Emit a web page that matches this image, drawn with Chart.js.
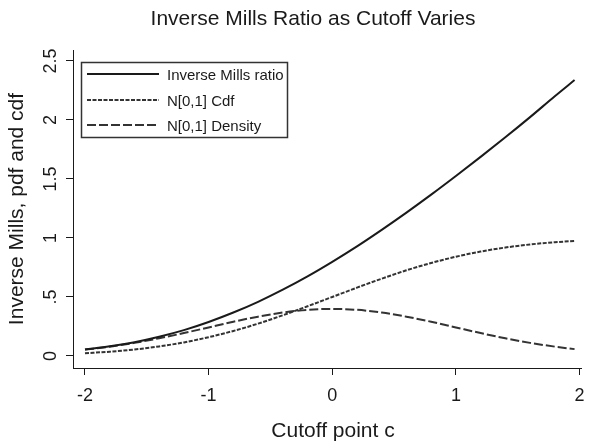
<!DOCTYPE html>
<html>
<head>
<meta charset="utf-8">
<script src="https://cdn.jsdelivr.net/npm/chart.js@4"></script>
<style>
  html, body { margin: 0; padding: 0; background: #fff; }
  #wrap { width: 589px; height: 441px; }
</style>
</head>
<body>
<div id="wrap"><canvas id="imrChart" width="589" height="441"></canvas></div>
<script>
// cutoff points c and the three curves
const cutoffs = [-2.0, -1.8, -1.6, -1.4, -1.2, -1.0, -0.8, -0.6, -0.4, -0.2, 0.0,
                 0.2, 0.4, 0.6, 0.8, 1.0, 1.2, 1.4, 1.6, 1.8, 1.96];
const millsRatio = [0.055, 0.082, 0.117, 0.163, 0.219, 0.288, 0.368, 0.459, 0.562, 0.675, 0.798,
                    0.929, 1.069, 1.215, 1.367, 1.525, 1.687, 1.853, 2.024, 2.201, 2.338];
const normCdf = [0.023, 0.036, 0.055, 0.081, 0.115, 0.159, 0.212, 0.274, 0.345, 0.421, 0.500,
                 0.579, 0.655, 0.726, 0.788, 0.841, 0.885, 0.919, 0.945, 0.964, 0.975];
const normPdf = [0.054, 0.079, 0.111, 0.150, 0.194, 0.242, 0.290, 0.333, 0.368, 0.391, 0.399,
                 0.391, 0.368, 0.333, 0.290, 0.242, 0.194, 0.150, 0.111, 0.079, 0.058];

const xTicks = [-2, -1, 0, 1, 2];
const xTickLabels = ['-2', '-1', '0', '1', '2'];
const yTicks = [0, 0.5, 1, 1.5, 2, 2.5];
const yTickLabels = ['0', '.5', '1', '1.5', '2', '2.5'];

const seriesNames = ['Inverse Mills ratio', 'N[0,1] Cdf', 'N[0,1] Density'];

const FONT = '"Liberation Sans", Arial, Helvetica, sans-serif';
const INK = '#1a1a1a';

function toPoints(ys) {
    return cutoffs.map((c, i) => ({ x: c, y: ys[i] }));
}

// titles, tick labels (y ones rotated, Stata style) and the boxed legend
const stataText = {
    id: 'stataText',
    afterDraw(chart) {
        const { ctx, scales } = chart;
        const x = scales.x, y = scales.y;
        ctx.save();
        ctx.fillStyle = INK;
        ctx.textBaseline = 'alphabetic';

        // main title
        ctx.font = '21px ' + FONT;
        ctx.textAlign = 'center';
        ctx.fillText('Inverse Mills Ratio as Cutoff Varies', 313, 25);

        // x title
        ctx.fillText('Cutoff point c', 333, 437);

        // x tick labels
        ctx.font = '18px ' + FONT;
        xTicks.forEach((v, i) => {
            ctx.fillText(xTickLabels[i], x.getPixelForValue(v), 401);
        });

        // y tick labels, rotated
        yTicks.forEach((v, i) => {
            ctx.save();
            ctx.translate(56, y.getPixelForValue(v));
            ctx.rotate(-Math.PI / 2);
            ctx.textAlign = 'center';
            ctx.fillText(yTickLabels[i], 0, 0);
            ctx.restore();
        });

        // y title
        ctx.save();
        ctx.translate(23, 209);
        ctx.rotate(-Math.PI / 2);
        ctx.font = '21px ' + FONT;
        ctx.textAlign = 'center';
        ctx.fillText('Inverse Mills, pdf and cdf', 0, 0);
        ctx.restore();

        // legend
        ctx.strokeStyle = '#333';
        ctx.lineWidth = 1.5;
        ctx.strokeRect(81.5, 62.5, 206, 75);
        const rows = [74, 100, 125];
        chart.data.datasets.forEach((ds, i) => {
            ctx.beginPath();
            ctx.setLineDash(ds.borderDash || []);
            ctx.strokeStyle = ds.borderColor;
            ctx.lineWidth = ds.borderWidth;
            ctx.moveTo(87, rows[i]);
            ctx.lineTo(159, rows[i]);
            ctx.stroke();
            ctx.setLineDash([]);
            ctx.font = '15px ' + FONT;
            ctx.textAlign = 'left';
            ctx.fillStyle = INK;
            ctx.fillText(seriesNames[i], 167, rows[i] + 6);
        });
        ctx.restore();
    }
};

new Chart(document.getElementById('imrChart'), {
    type: 'line',
    data: {
        datasets: [
            {
                label: seriesNames[0],
                data: toPoints(millsRatio),
                borderColor: INK,
                borderWidth: 2,
                borderDash: []
            },
            {
                label: seriesNames[1],
                data: toPoints(normCdf),
                borderColor: '#333',
                borderWidth: 2,
                borderDash: [4, 1.5]
            },
            {
                label: seriesNames[2],
                data: toPoints(normPdf),
                borderColor: '#333',
                borderWidth: 2,
                borderDash: [9, 3]
            }
        ]
    },
    options: {
        responsive: false,
        animation: false,
        devicePixelRatio: 1,
        layout: { padding: { left: 0, top: 50, right: 8, bottom: 0 } },
        elements: {
            point: { radius: 0 },
            line: { cubicInterpolationMode: 'monotone', fill: false }
        },
        plugins: {
            legend: { display: false },
            title: { display: false },
            tooltip: { enabled: false }
        },
        scales: {
            x: {
                type: 'linear',
                min: -2.097,
                max: 2.012,
                afterBuildTicks: s => { s.ticks = xTicks.map(v => ({ value: v })); },
                afterFit: s => { s.height = 73; },
                border: { display: true, color: INK, width: 1 },
                grid: { drawOnChartArea: false, drawTicks: true, tickLength: 7, color: INK },
                ticks: { color: 'rgba(0,0,0,0)', font: { family: FONT, size: 18 }, maxRotation: 0 }
            },
            y: {
                type: 'linear',
                min: -0.102,
                max: 2.593,
                afterBuildTicks: s => { s.ticks = yTicks.map(v => ({ value: v })); },
                afterFit: s => { s.width = 73; },
                border: { display: true, color: INK, width: 1 },
                grid: { drawOnChartArea: false, drawTicks: true, tickLength: 7, color: INK },
                ticks: { color: 'rgba(0,0,0,0)', font: { family: FONT, size: 18 } }
            }
        }
    },
    plugins: [stataText]
});
</script>
</body>
</html>
